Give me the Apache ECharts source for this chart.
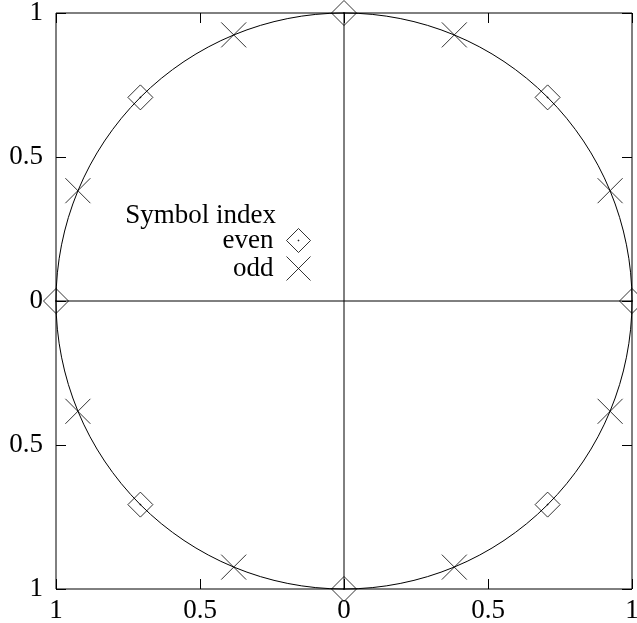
<!DOCTYPE html>
<html>
<head>
<meta charset="utf-8">
<script src="https://cdn.jsdelivr.net/npm/echarts@6/dist/echarts.min.js"></script>
<style>
  html, body { margin: 0; padding: 0; background: #fff; }
  #chart { width: 637px; height: 623px; }
</style>
</head>
<body>
<div id="chart"></div>
<script>
// Tick labels shown on both axes (values -1 .. 1 step 0.5)
const tickValues = [-1, -0.5, 0, 0.5, 1];
const tickLabels = ['1', '0.5', '0', '0.5', '1'];

// Unit circle (center x, y and radius)
const circle = [[0, 0, 1]];

// Crosshair through the origin
const hLine = [[-1, 0], [1, 0]];
const vLine = [[0, -1], [0, 1]];

// Points on the circle: even and odd symbol indices
const evenPoints = [
  [1, 0], [0.707, 0.707], [0, 1], [-0.707, 0.707],
  [-1, 0], [-0.707, -0.707], [0, -1], [0.707, -0.707]
];
const oddPoints = [
  [0.924, 0.383], [0.383, 0.924], [-0.383, 0.924], [-0.924, 0.383],
  [-0.924, -0.383], [-0.383, -0.924], [0.383, -0.924], [0.924, -0.383]
];

const font = '"Liberation Serif", "DejaVu Serif", serif';
const fontSize = 27;
const diamondPath = 'path://M0,-12L12,0L0,12L-12,0Z M-0.4,-0.4L0.4,-0.4L0.4,0.4L-0.4,0.4Z';
const crossPath = 'path://M-12,-12L12,12M12,-12L-12,12';

function label(v) {
  const i = tickValues.indexOf(v);
  return i >= 0 ? tickLabels[i] : '';
}

const chart = echarts.init(document.getElementById('chart'), null, { renderer: 'canvas' });

const markStyle = { color: 'transparent', borderColor: '#000', borderWidth: 1 };
const tickStyle = { show: true, inside: true, length: 10, lineStyle: { color: '#000', width: 1 } };

// Axes sit on the frame edges (not on the zero lines), ticks point inward
function axis(extra) {
  return Object.assign({
    type: 'value', min: -1, max: 1, interval: 0.5,
    axisLine: { show: false, onZero: false },
    axisTick: tickStyle,
    splitLine: { show: false }
  }, extra);
}

chart.setOption({
  animation: false,
  backgroundColor: '#fff',
  grid: {
    left: 56, right: 5, top: 13, bottom: 34,
    outerBoundsMode: 'none',
    containLabel: false,
    show: true, borderColor: '#000', borderWidth: 1, backgroundColor: 'transparent'
  },
  xAxis: [
    axis({
      position: 'bottom',
      axisLabel: { formatter: label, color: '#000', fontFamily: font, fontSize: fontSize, margin: 8 }
    }),
    axis({ position: 'top', axisLabel: { show: false } })
  ],
  yAxis: [
    axis({
      position: 'left',
      axisLabel: { formatter: label, color: '#000', fontFamily: font, fontSize: fontSize, margin: 13 }
    }),
    axis({ position: 'right', axisLabel: { show: false } })
  ],
  legend: {
    orient: 'vertical',
    right: 637 - 311,
    top: 227,
    padding: 0,
    align: 'right',
    itemWidth: 24,
    itemHeight: 24,
    itemGap: 1,
    selectedMode: false,
    textStyle: { color: '#000', fontFamily: font, fontSize: fontSize, padding: [0, 8, 0, 0] },
    itemStyle: markStyle,
    data: [
      { name: 'even', icon: diamondPath },
      { name: 'odd', icon: crossPath }
    ]
  },
  graphic: [{
    type: 'text',
    right: 637 - 276,
    top: 202,
    style: { text: 'Symbol index', fill: '#000', font: fontSize + 'px ' + font }
  }],
  series: [
    {
      type: 'custom',
      name: 'circle',
      data: circle,
      silent: true,
      renderItem: function (params, api) {
        const c = api.coord([api.value(0), api.value(1)]);
        const r = api.size([api.value(2), api.value(2)])[0];
        return {
          type: 'circle',
          shape: { cx: c[0], cy: c[1], r: r },
          style: { fill: 'none', stroke: '#000', lineWidth: 1 }
        };
      }
    },
    {
      type: 'line', name: 'h', data: hLine, symbol: 'none', silent: true,
      lineStyle: { color: '#000', width: 1 }
    },
    {
      type: 'line', name: 'v', data: vLine, symbol: 'none', silent: true,
      lineStyle: { color: '#000', width: 1 }
    },
    {
      type: 'scatter', name: 'even', data: evenPoints,
      symbol: diamondPath, symbolSize: 25, itemStyle: markStyle
    },
    {
      type: 'scatter', name: 'odd', data: oddPoints,
      symbol: crossPath, symbolSize: 25, itemStyle: markStyle
    }
  ]
});
</script>
</body>
</html>
